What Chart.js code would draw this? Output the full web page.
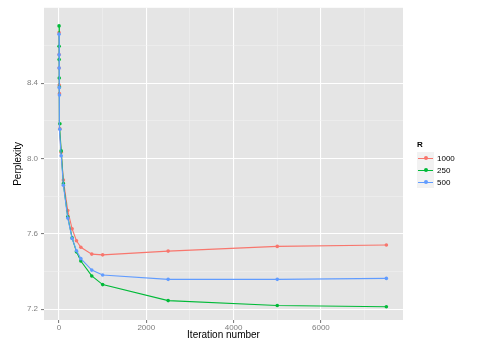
<!DOCTYPE html>
<html>
<head>
<meta charset="utf-8">
<script src="https://cdn.jsdelivr.net/npm/chart.js@4"></script>
<style>
  html, body { margin: 0; padding: 0; background: #fff; }
  #wrap { position: relative; width: 485px; height: 346px; }
  #legend { position: absolute; left: 417px; top: 140px; font-family: "Liberation Sans", Arial, sans-serif; font-size: 8px; color: #000; }
  #legend .ttl { font-weight: bold; margin-bottom: 3px; }
  #legend .row { display: flex; align-items: center; height: 12px; }
  #legend .key { position: relative; width: 17px; height: 12px; background: #F2F2F2; margin-right: 3px; }
  #legend .key .ln { position: absolute; left: 1px; right: 1px; top: 5.5px; height: 1px; }
  #legend .key .pt { position: absolute; left: 7px; top: 4px; width: 4px; height: 4px; border-radius: 2px; }
</style>
</head>
<body>
<div id="wrap">
  <canvas id="chart" width="485" height="346"></canvas>
  <div id="legend"></div>
</div>
<script>
// data
const iterations = [1, 2, 3, 5, 10, 20, 50, 100, 200, 300, 400, 500, 750, 1000, 2500, 5000, 7500];
const seriesNames = ["1000", "250", "500"];
const r1000 = [8.668, 8.552, 8.48, 8.39, 8.344, 8.157, 8.033, 7.885, 7.723, 7.626, 7.563, 7.528, 7.492, 7.488, 7.508, 7.533, 7.54];
const r250  = [8.704, 8.596, 8.525, 8.427, 8.379, 8.184, 8.04, 7.866, 7.69, 7.578, 7.504, 7.455, 7.376, 7.33, 7.245, 7.219, 7.212];
const r500  = [8.66, 8.55, 8.48, 8.376, 8.337, 8.155, 8.014, 7.858, 7.684, 7.575, 7.51, 7.468, 7.407, 7.381, 7.358, 7.358, 7.363];
const xTicks = [0, 1000, 2000, 3000, 4000, 5000, 6000, 7000];
const xMajor = [0, 2000, 4000, 6000];
const yTicks = [7.2, 7.4, 7.6, 7.8, 8.0, 8.2, 8.4, 8.6];
const yMajor = [7.2, 7.6, 8.0, 8.4];

const colors = ["#F8766D", "#00BA38", "#619CFF"];
const allSeries = [r1000, r250, r500];

const FONT = "'Liberation Sans', Arial, sans-serif";

function isMajor(list, v) {
  return list.some(m => Math.abs(m - v) < 1e-6);
}

const panelBg = {
  id: 'panelBg',
  beforeDraw(chart) {
    const a = chart.chartArea, ctx = chart.ctx;
    ctx.save();
    ctx.fillStyle = '#E5E5E5';
    ctx.fillRect(a.left, a.top, a.right - a.left, a.bottom - a.top);
    ctx.restore();
  }
};

const datasets = allSeries.map((vals, i) => ({
  label: seriesNames[i],
  data: iterations.map((x, j) => ({ x: x, y: vals[j] })),
  borderColor: colors[i],
  backgroundColor: colors[i],
  borderWidth: 1.1,
  pointRadius: 1.8,
  pointBorderWidth: 0,
  pointHoverRadius: 1.8,
  tension: 0,
  showLine: true,
  order: 2 - i
}));

function gridOpts(major) {
  return {
    color: c => isMajor(major, c.tick.value) ? '#FFFFFF' : '#F2F2F2',
    lineWidth: c => isMajor(major, c.tick.value) ? 1.1 : 0.5,
    tickColor: c => isMajor(major, c.tick.value) ? '#7F7F7F' : 'rgba(0,0,0,0)',
    tickLength: 3,
    drawOnChartArea: true
  };
}

new Chart(document.getElementById('chart'), {
  type: 'scatter',
  data: { datasets: datasets },
  plugins: [panelBg],
  options: {
    responsive: false,
    animation: false,
    layout: { padding: { top: 5, right: 82, left: 0, bottom: 0 } },
    plugins: { legend: { display: false }, tooltip: { enabled: false } },
    scales: {
      x: {
        type: 'linear',
        min: -344, max: 7881,
        afterBuildTicks: s => { s.ticks = xTicks.map(v => ({ value: v })); },
        afterFit: s => { s.height = 26; },
        border: { display: false },
        grid: gridOpts(xMajor),
        ticks: {
          autoSkip: false, maxRotation: 0, padding: 0,
          color: '#7F7F7F', font: { family: FONT, size: 8 },
          callback: v => isMajor(xMajor, v) ? String(v) : ''
        },
        title: { display: true, text: 'Iteration number', color: '#000', font: { family: FONT, size: 10 }, padding: { top: 0, bottom: 5 } }
      },
      y: {
        type: 'linear',
        min: 7.142, max: 8.80,
        afterBuildTicks: s => { s.ticks = yTicks.map(v => ({ value: v })); },
        afterFit: s => { s.width = 44; },
        border: { display: false },
        grid: gridOpts(yMajor),
        ticks: {
          autoSkip: false, padding: 3,
          color: '#7F7F7F', font: { family: FONT, size: 8 },
          callback: v => isMajor(yMajor, v) ? v.toFixed(1) : ''
        },
        title: { display: true, text: 'Perplexity', color: '#000', font: { family: FONT, size: 10 }, padding: { top: 12, bottom: 0 } }
      }
    }
  }
});

// legend, ggplot style
const legend = document.getElementById('legend');
let html = '<div class="ttl">R</div>';
seriesNames.forEach((n, i) => {
  html += '<div class="row"><div class="key"><div class="ln" style="background:' + colors[i] + '"></div>' +
          '<div class="pt" style="background:' + colors[i] + '"></div></div><span>' + n + '</span></div>';
});
legend.innerHTML = html;
</script>
</body>
</html>
